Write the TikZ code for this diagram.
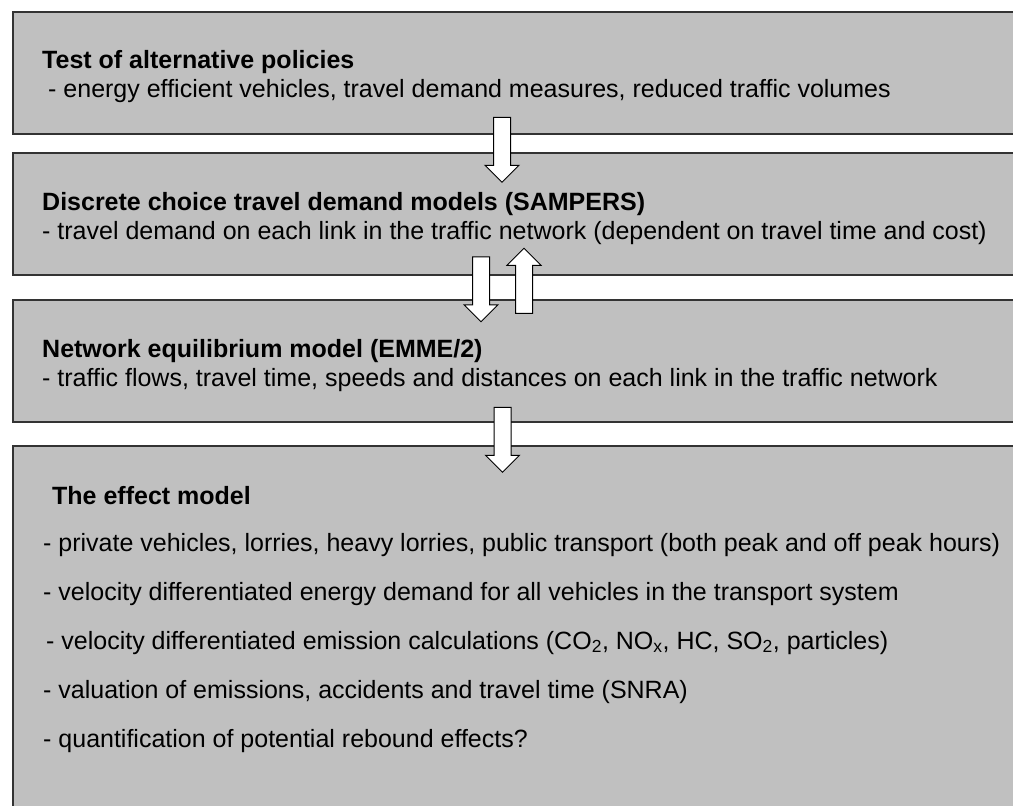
\documentclass[tikz,border=0pt]{standalone}
\usepackage{fontspec}
\setmainfont{Liberation Sans}
\usetikzlibrary{positioning,shapes.arrows}
\definecolor{boxgray}{HTML}{C0C0C0}

\begin{document}
\begin{tikzpicture}[
    x=1pt, y=-1pt,
    font=\fontsize{25}{29}\selectfont,
    stage/.style={
        draw=black!80,
        line width=1.5pt,
        fill=boxgray,
        minimum width=1060pt,
        minimum height=122pt,
        inner sep=0pt,
        outer sep=0pt
    },
    stagetext/.style={
        anchor=north west,
        align=left,
        inner sep=0pt
    },
    blockarrow/.style={
        single arrow,
        draw=black,
        line width=1pt,
        fill=white,
        minimum height=65pt,
        minimum width=33pt,
        single arrow head extend=8.5pt,
        inner sep=8pt
    },
    arrowdown/.style={blockarrow, shape border rotate=270},
    arrowup/.style={blockarrow, shape border rotate=90}
]
\useasboundingbox (0,0) rectangle (1013,806);
\clip (0,0) rectangle (1013,806);

% stages of the model chain
\node[stage, anchor=north west] (policy) at (13,12) {};
\node[stage, below=19pt of policy.south west, anchor=north west] (demand) {};
\node[stage, below=25pt of demand.south west, anchor=north west] (network) {};
\node[stage, below=24pt of network.south west, anchor=north west, minimum height=380pt] (effect) {};

\node[stagetext] (policytext) at ([xshift=29pt, yshift=-35.7pt]policy.north west)
    {\strut\textbf{Test of alternative policies}\\
     \hspace*{6pt}- energy efficient vehicles, travel demand measures, reduced traffic volumes};
\node[stagetext] (demandtext) at ([xshift=29pt, yshift=-36.7pt]demand.north west)
    {\strut\textbf{Discrete choice travel demand models (SAMPERS)}\\
     - travel demand on each link in the traffic network (dependent on travel time and cost)};
\node[stagetext] (networktext) at ([xshift=29pt, yshift=-36.7pt]network.north west)
    {\strut\textbf{Network equilibrium model (EMME/2)}\\
     - traffic flows, travel time, speeds and distances on each link in the traffic network};
\node[stagetext] (effecttext) at ([xshift=30pt, yshift=-37.7pt]effect.north west)
    {\strut\hspace*{9pt}\textbf{The effect model}\\[18pt]
     - private vehicles, lorries, heavy lorries, public transport (both peak and off peak hours)\\[20pt]
     - velocity differentiated energy demand for all vehicles in the transport system\\[20pt]
     \hspace*{3pt}- velocity differentiated emission calculations (CO\textsubscript{2}, NO\textsubscript{x}, HC, SO\textsubscript{2}, particles)\\[20pt]
     - valuation of emissions, accidents and travel time (SNRA)\\[20pt]
     - quantification of potential rebound effects?};

% block arrows between the stages
\node[arrowdown] (policytodemand) at (502,145.5) {};
\node[arrowdown] (demandtonetwork) at (481,285) {};
\node[arrowup] (networktodemand) at (524,285) {};
\node[arrowdown] (networktoeffect) at (502.5,435.5) {};
\end{tikzpicture}
\end{document}
